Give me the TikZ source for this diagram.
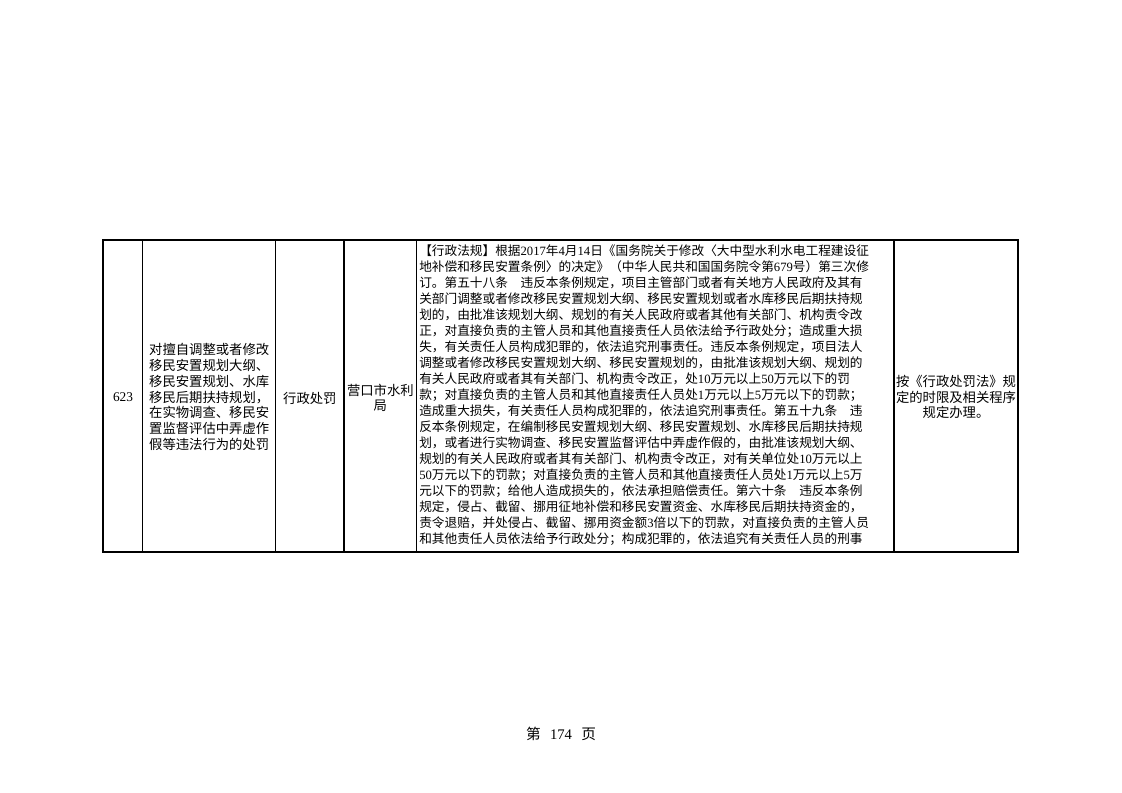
\documentclass[tikz,border=0pt]{standalone}
\usepackage{fontspec}
\setmainfont{Noto Sans CJK SC}
\newfontfamily\latinf{Liberation Serif}
\newcommand\nm[1]{{\latinf #1}}
\XeTeXlinebreaklocale "zh"
\XeTeXlinebreakskip=0pt plus 2pt minus 0.6pt
\newcommand\jl[1]{\hbox to 351.5pt{#1}}
\tikzset{
  cell/.style={inner sep=0pt, align=center, font=\fontsize{10}{11.8}\selectfont},
  lawline/.style={anchor=west, inner sep=0pt, font=\fontsize{9.5}{11}\selectfont},
  outer/.style={line width=1.3pt},
  inner/.style={line width=0.8pt},
  pagenum/.style={inner sep=0pt, font=\fontsize{11}{13}\selectfont}
}
\begin{document}
\begin{tikzpicture}[x=0.75pt,y=-0.75pt]
\useasboundingbox (0,0) rectangle (1122,793);
% grid
\draw[inner] (142.7,240) -- (142.7,552);
\draw[inner] (275.7,240) -- (275.7,552);
\draw[inner] (344,240) -- (344,552);
\draw[inner] (416.7,240) -- (416.7,552);
\draw[inner] (894,240) -- (894,552);
\draw[outer] (103,240) rectangle (1018,552);
% cells
\node[cell] (num) at (123,397) {\nm{623}};
\node[cell] (item) at (209.2,397) {对擅自调整或者修改\\移民安置规划大纲、\\移民安置规划、水库\\移民后期扶持规划，\\在实物调查、移民安\\置监督评估中弄虚作\\假等违法行为的处罚};
\node[cell] (kind) at (309.9,398) {行政处罚};
\node[cell] (dept) at (380.4,398) {营口市水利\\局};
\node[cell] (proc) at (956,397) {按《行政处罚法》规\\定的时限及相关程序\\规定办理。};
% law text
\begin{scope}
\clip (416.7,240) rectangle (894,552);
\node[lawline] (l1) at (419,251) {\jl{【行政法规】根据\nm{2017}年\nm{4}月\nm{14}日《国务院关于修改〈大中型水利水电工程建设征}};
\node[lawline] (l2) at (419,267) {\jl{地补偿和移民安置条例〉的决定》（中华人民共和国国务院令第\nm{679}号）第三次修}};
\node[lawline] (l3) at (419,283) {\jl{订。第五十八条　违反本条例规定，项目主管部门或者有关地方人民政府及其有}};
\node[lawline] (l4) at (419,299) {\jl{关部门调整或者修改移民安置规划大纲、移民安置规划或者水库移民后期扶持规}};
\node[lawline] (l5) at (419,315) {\jl{划的，由批准该规划大纲、规划的有关人民政府或者其他有关部门、机构责令改}};
\node[lawline] (l6) at (419,331) {\jl{正，对直接负责的主管人员和其他直接责任人员依法给予行政处分；造成重大损}};
\node[lawline] (l7) at (419,347) {\jl{失，有关责任人员构成犯罪的，依法追究刑事责任。违反本条例规定，项目法人}};
\node[lawline] (l8) at (419,363) {\jl{调整或者修改移民安置规划大纲、移民安置规划的，由批准该规划大纲、规划的}};
\node[lawline] (l9) at (419,379) {有关人民政府或者其有关部门、机构责令改正，处\nm{10}万元以上\nm{50}万元以下的罚};
\node[lawline] (l10) at (419,395) {\jl{款；对直接负责的主管人员和其他直接责任人员处\nm{1}万元以上\nm{5}万元以下的罚款；}};
\node[lawline] (l11) at (419,411) {\jl{造成重大损失，有关责任人员构成犯罪的，依法追究刑事责任。第五十九条　违}};
\node[lawline] (l12) at (419,427) {\jl{反本条例规定，在编制移民安置规划大纲、移民安置规划、水库移民后期扶持规}};
\node[lawline] (l13) at (419,443) {\jl{划，或者进行实物调查、移民安置监督评估中弄虚作假的，由批准该规划大纲、}};
\node[lawline] (l14) at (419,459) {\jl{规划的有关人民政府或者其有关部门、机构责令改正，对有关单位处\nm{10}万元以上}};
\node[lawline] (l15) at (419,475) {\jl{\nm{50}万元以下的罚款；对直接负责的主管人员和其他直接责任人员处\nm{1}万元以上\nm{5}万}};
\node[lawline] (l16) at (419,491) {\jl{元以下的罚款；给他人造成损失的，依法承担赔偿责任。第六十条　违反本条例}};
\node[lawline] (l17) at (419,507) {\jl{规定，侵占、截留、挪用征地补偿和移民安置资金、水库移民后期扶持资金的，}};
\node[lawline] (l18) at (419,523) {\jl{责令退赔，并处侵占、截留、挪用资金额\nm{3}倍以下的罚款，对直接负责的主管人员}};
\node[lawline] (l19) at (419,539) {\jl{和其他责任人员依法给予行政处分；构成犯罪的，依法追究有关责任人员的刑事}};
\end{scope}
% page number
\node[pagenum] (page) at (561,734) {第\hspace{7pt}\nm{174}\hspace{7pt}页};
\end{tikzpicture}
\end{document}
